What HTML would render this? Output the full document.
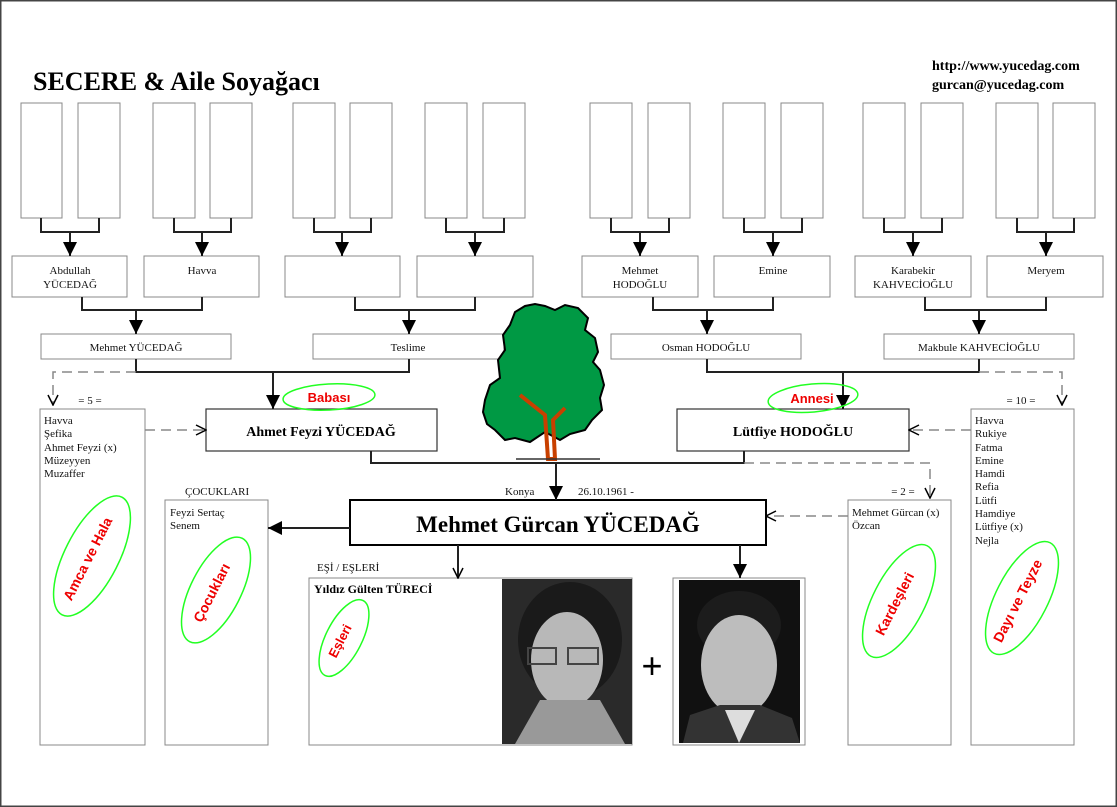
<!DOCTYPE html>
<html><head><meta charset="utf-8"><style>
html,body{margin:0;padding:0;background:#fff;}
svg{display:block;}
text{font-family:"Liberation Serif",serif;}
</style></head><body>
<svg width="1117" height="807" viewBox="0 0 1117 807" xmlns="http://www.w3.org/2000/svg">
<defs>
<marker id="a" markerWidth="14" markerHeight="14" refX="14" refY="7" orient="auto" markerUnits="userSpaceOnUse"><path d="M0,0 L14,7 L0,14 Z" fill="#000"/></marker>
<marker id="o" markerWidth="12" markerHeight="12" refX="11" refY="6" orient="auto" markerUnits="userSpaceOnUse"><path d="M1,1 L11,6 L1,11" fill="none" stroke="#000" stroke-width="1.5"/></marker>
</defs>
<rect x="0.5" y="0.5" width="1116" height="806" fill="#fff" stroke="#444" stroke-width="2"/>

<text x="33" y="90" font-size="26" font-weight="bold">SECERE &amp; Aile Soyağacı</text>
<text x="932" y="70" font-size="14" font-weight="bold">http://www.yucedag.com</text>
<text x="932" y="89" font-size="14" font-weight="bold">gurcan@yucedag.com</text>

<g fill="#fff" stroke="#888" stroke-width="1">
<rect x="21" y="103" width="41" height="115"/><rect x="78" y="103" width="42" height="115"/>
<rect x="153" y="103" width="42" height="115"/><rect x="210" y="103" width="42" height="115"/>
<rect x="293" y="103" width="42" height="115"/><rect x="350" y="103" width="42" height="115"/>
<rect x="425" y="103" width="42" height="115"/><rect x="483" y="103" width="42" height="115"/>
<rect x="590" y="103" width="42" height="115"/><rect x="648" y="103" width="42" height="115"/>
<rect x="723" y="103" width="42" height="115"/><rect x="781" y="103" width="42" height="115"/>
<rect x="863" y="103" width="42" height="115"/><rect x="921" y="103" width="42" height="115"/>
<rect x="996" y="103" width="42" height="115"/><rect x="1053" y="103" width="42" height="115"/>

<rect x="12" y="256" width="115" height="41"/><rect x="144" y="256" width="115" height="41"/>
<rect x="285" y="256" width="115" height="41"/><rect x="417" y="256" width="116" height="41"/>
<rect x="582" y="256" width="116" height="41"/><rect x="714" y="256" width="116" height="41"/>
<rect x="855" y="256" width="116" height="41"/><rect x="987" y="256" width="116" height="41"/>

<rect x="41" y="334" width="190" height="25"/><rect x="313" y="334" width="191" height="25"/>
<rect x="611" y="334" width="190" height="25"/><rect x="884" y="334" width="190" height="25"/>

<rect x="40" y="409" width="105" height="336"/>
<rect x="971" y="409" width="103" height="336"/>
<rect x="165" y="500" width="103" height="245"/>
<rect x="848" y="500" width="103" height="245"/>
<rect x="309" y="578" width="323" height="167"/>
<rect x="673" y="578" width="132" height="167"/>
</g>
<g fill="#fff" stroke="#333" stroke-width="1.2">
<rect x="206" y="409" width="231" height="42"/>
<rect x="677" y="409" width="232" height="42"/>
</g>
<rect x="350" y="500" width="416" height="45" fill="#fff" stroke="#000" stroke-width="2"/>

<g fill="none" stroke="#222" stroke-width="2">
<path d="M41,218V232H99V218"/><path d="M174,218V232H231V218"/>
<path d="M314,218V232H371V218"/><path d="M446,218V232H504V218"/>
<path d="M611,218V232H669V218"/><path d="M744,218V232H802V218"/>
<path d="M884,218V232H942V218"/><path d="M1017,218V232H1074V218"/>
<path d="M70,232V256" marker-end="url(#a)"/><path d="M202,232V256" marker-end="url(#a)"/>
<path d="M342,232V256" marker-end="url(#a)"/><path d="M475,232V256" marker-end="url(#a)"/>
<path d="M640,232V256" marker-end="url(#a)"/><path d="M773,232V256" marker-end="url(#a)"/>
<path d="M913,232V256" marker-end="url(#a)"/><path d="M1046,232V256" marker-end="url(#a)"/>

<path d="M82,297V310H202V297"/><path d="M136,310V334" marker-end="url(#a)"/>
<path d="M355,297V310H475V297"/><path d="M409,310V334" marker-end="url(#a)"/>
<path d="M653,297V310H773V297"/><path d="M707,310V334" marker-end="url(#a)"/>
<path d="M925,297V310H1046V297"/><path d="M979,310V334" marker-end="url(#a)"/>

<path d="M136,359V372H409V359"/><path d="M273,372V409" marker-end="url(#a)"/>
<path d="M707,359V372H979V359"/><path d="M843,372V409" marker-end="url(#a)"/>

<path d="M371,451V463H744V451"/><path d="M556,463V500" marker-end="url(#a)"/>
<path d="M350,528H268" marker-end="url(#a)"/>
<path d="M458,545V578" marker-end="url(#o)"/>
<path d="M740,545V578" marker-end="url(#a)"/>
</g>
<g fill="none" stroke="#888" stroke-width="1.5" stroke-dasharray="10,6">
<path d="M136,372H53V405" marker-end="url(#o)"/>
<path d="M145,430H206" marker-end="url(#o)"/>
<path d="M979,372H1062V405" marker-end="url(#o)"/>
<path d="M971,430H909" marker-end="url(#o)"/>
<path d="M744,463H930V498" marker-end="url(#o)"/>
<path d="M848,516H766" marker-end="url(#o)"/>
</g>

<g font-size="11" text-anchor="middle" fill="#111">
<text x="70" y="274">Abdullah</text><text x="70" y="288">YÜCEDAĞ</text>
<text x="202" y="274">Havva</text>
<text x="640" y="274">Mehmet</text><text x="640" y="288">HODOĞLU</text>
<text x="773" y="274">Emine</text>
<text x="913" y="274">Karabekir</text><text x="913" y="288">KAHVECİOĞLU</text>
<text x="1046" y="274">Meryem</text>
<text x="136" y="351">Mehmet YÜCEDAĞ</text>
<text x="408" y="351">Teslime</text>
<text x="706" y="351">Osman HODOĞLU</text>
<text x="979" y="351">Makbule KAHVECİOĞLU</text>
<text x="90" y="404">= 5 =</text>
<text x="1021" y="404">= 10 =</text>
<text x="903" y="495">= 2 =</text>
</g>
<text x="321" y="436" font-size="14" font-weight="bold" text-anchor="middle">Ahmet Feyzi YÜCEDAĞ</text>
<text x="793" y="436" font-size="14" font-weight="bold" text-anchor="middle">Lütfiye HODOĞLU</text>
<text x="558" y="532" font-size="23" font-weight="bold" text-anchor="middle">Mehmet Gürcan YÜCEDAĞ</text>
<g font-size="11" fill="#111">
<text x="505" y="495">Konya</text><text x="578" y="495">26.10.1961 -</text>
<text x="185" y="495">ÇOCUKLARI</text>
<text x="317" y="571">EŞİ / EŞLERİ</text>
<text x="44" y="424">Havva</text><text x="44" y="437">Şefika</text><text x="44" y="451">Ahmet Feyzi (x)</text><text x="44" y="464">Müzeyyen</text><text x="44" y="477">Muzaffer</text>
<text x="975" y="424">Havva</text><text x="975" y="437">Rukiye</text><text x="975" y="451">Fatma</text><text x="975" y="464">Emine</text><text x="975" y="477">Hamdi</text><text x="975" y="490">Refia</text><text x="975" y="504">Lütfi</text><text x="975" y="517">Hamdiye</text><text x="975" y="530">Lütfiye (x)</text><text x="975" y="544">Nejla</text>
<text x="170" y="516">Feyzi Sertaç</text><text x="170" y="529">Senem</text>
<text x="852" y="516">Mehmet Gürcan (x)</text><text x="852" y="529">Özcan</text>
</g>
<text x="314" y="593" font-size="12" font-weight="bold">Yıldız Gülten TÜRECİ</text>

<!-- photos -->
<rect x="502" y="579" width="130" height="165" fill="#2a2a2a"/>
<ellipse cx="570" cy="640" rx="52" ry="58" fill="#1a1a1a"/>
<ellipse cx="567" cy="660" rx="36" ry="48" fill="#b8b8b8"/>
<path d="M515,744 L540,700 L600,700 L625,744Z" fill="#999"/>
<rect x="528" y="648" width="28" height="16" fill="none" stroke="#444" stroke-width="2"/><rect x="568" y="648" width="30" height="16" fill="none" stroke="#444" stroke-width="2"/>
<text x="652" y="678" font-size="36" text-anchor="middle" style="font-family:'Liberation Sans',sans-serif">+</text>
<rect x="679" y="580" width="121" height="163" fill="#111"/>
<ellipse cx="739" cy="625" rx="42" ry="34" fill="#1c1c1c"/>
<ellipse cx="739" cy="665" rx="38" ry="50" fill="#bdbdbd"/>
<path d="M683,743 L690,715 L720,705 L760,705 L792,718 L800,743Z" fill="#333"/>
<path d="M725,710 L739,743 L755,710Z" fill="#ddd"/>

<!-- tree -->
<path d="M485,400 L490,385 L500,378 L498,360 L505,350 L503,335 L510,325 L515,312 L525,306 L535,304 L545,306 L555,310 L565,305 L578,308 L588,318 L585,330 L595,338 L598,352 L593,362 L600,370 L604,385 L600,398 L602,410 L592,420 L585,430 L570,434 L560,440 L545,432 L530,442 L515,438 L505,440 L495,430 L487,424 L483,412Z" fill="#009944" stroke="#000" stroke-width="2"/>
<path d="M520,395 L545,415 L548,459 L555,459 L553,420 L565,408" fill="none" stroke="#c84000" stroke-width="4"/>
<line x1="516" y1="459" x2="600" y2="459" stroke="#333" stroke-width="1.5"/>

<!-- ellipses -->
<g fill="none" stroke="#2f2" stroke-width="1.5">
<ellipse cx="329" cy="397" rx="46" ry="13" transform="rotate(-3 329 397)"/>
<ellipse cx="813" cy="398" rx="45" ry="14" transform="rotate(-5 813 398)"/>
<ellipse cx="92" cy="556" rx="66" ry="27" transform="rotate(-63 92 556)"/>
<ellipse cx="216" cy="590" rx="58" ry="25" transform="rotate(-63 216 590)"/>
<ellipse cx="344" cy="638" rx="42" ry="18" transform="rotate(-63 344 638)"/>
<ellipse cx="899" cy="601" rx="62" ry="26" transform="rotate(-63 899 601)"/>
<ellipse cx="1022" cy="598" rx="62" ry="26" transform="rotate(-63 1022 598)"/>
</g>
<g fill="#e00" font-weight="bold" text-anchor="middle" style="font-family:'Liberation Sans',sans-serif">
<text x="329" y="402" font-size="13" style="font-family:'Liberation Sans',sans-serif">Babası</text>
<text x="812" y="403" font-size="13" style="font-family:'Liberation Sans',sans-serif">Annesi</text>
<text font-size="14" transform="translate(92,561) rotate(-63)" style="font-family:'Liberation Sans',sans-serif">Amca ve Hala</text>
<text font-size="14" transform="translate(216,595) rotate(-63)" style="font-family:'Liberation Sans',sans-serif">Çocukları</text>
<text font-size="13" transform="translate(344,643) rotate(-63)" style="font-family:'Liberation Sans',sans-serif">Eşleri</text>
<text font-size="14" transform="translate(899,606) rotate(-63)" style="font-family:'Liberation Sans',sans-serif">Kardeşleri</text>
<text font-size="14" transform="translate(1022,603) rotate(-63)" style="font-family:'Liberation Sans',sans-serif">Dayı ve Teyze</text>
</g>
</svg>
</body></html>
